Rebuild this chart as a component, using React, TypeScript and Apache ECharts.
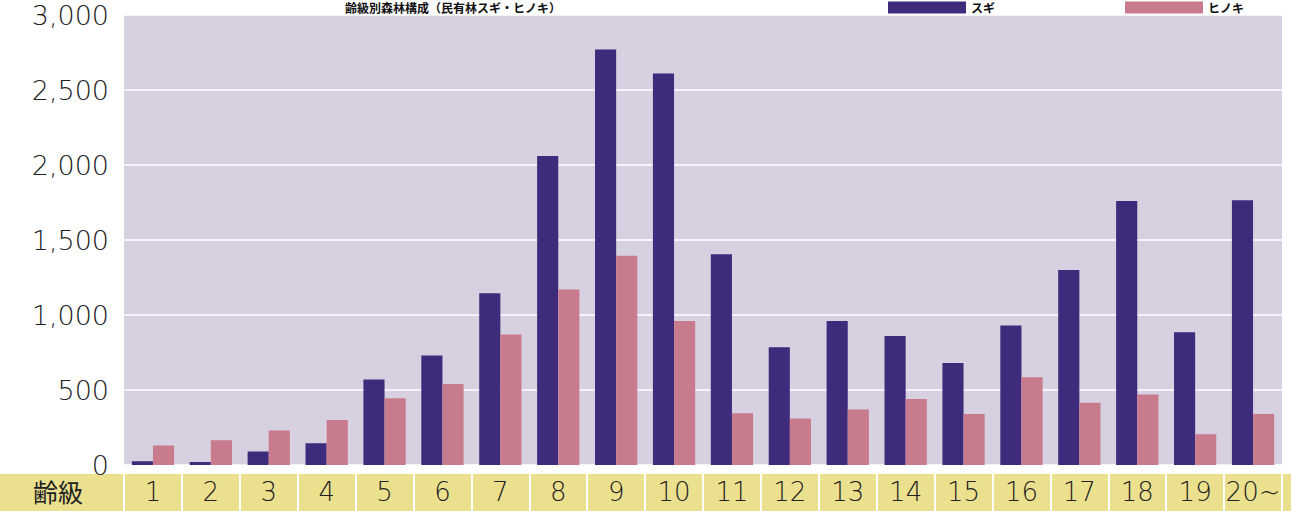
import React, { useEffect, useRef } from "react";
import * as echarts from "echarts";

const categories = ["1", "2", "3", "4", "5", "6", "7", "8", "9", "10", "11", "12", "13", "14", "15", "16", "17", "18", "19", "20~"];
const sugi = [25, 20, 90, 145, 570, 730, 1145, 2060, 2770, 2610, 1405, 785, 960, 860, 680, 930, 1300, 1760, 885, 1765];
const hinoki = [130, 165, 230, 300, 445, 540, 870, 1170, 1395, 960, 345, 310, 370, 440, 340, 585, 415, 470, 205, 340];
const yTicks = [0, 500, 1000, 1500, 2000, 2500, 3000];

export default function App() {
  const ref = useRef<HTMLDivElement>(null);
  useEffect(() => {
    const el = ref.current!;
    const chart = echarts.init(el, undefined, { renderer: "svg" });
    const cjk = "'Noto Sans CJK JP', 'Noto Sans', sans-serif";
    const num = "'DejaVu Sans', 'Noto Sans', sans-serif";
    chart.setOption({
      animation: false,
      backgroundColor: "#ffffff",
      title: {
        text: "齢級別森林構成（民有林スギ・ヒノキ）",
        left: 345,
        top: 1,
        padding: 0,
        textStyle: { fontSize: 12, lineHeight: 13, fontWeight: "bold", color: "#111", fontFamily: cjk },
      },
      legend: {
        left: 888,
        top: 1,
        padding: 0,
        itemWidth: 78,
        itemHeight: 12,
        itemGap: 130,
        textStyle: { fontSize: 12, lineHeight: 13, fontWeight: "bold", color: "#111", fontFamily: cjk },
        icon: "rect",
        data: ["スギ", "ヒノキ"],
      },
      graphic: [
        { type: "rect", left: 0, top: 474, shape: { width: 1291, height: 37 }, style: { fill: "#ebe08e" }, z: -1 },
        { type: "text", left: 33, top: 478, style: { text: "齢級", fontSize: 25, fill: "#222", fontFamily: cjk } },
      ],
      grid: {
        left: 124,
        top: 15,
        width: 1158,
        height: 450,
        show: true,
        backgroundColor: "#d6d0e0",
        borderWidth: 0,
      },
      xAxis: {
        type: "category",
        data: categories,
        axisLine: { show: false },
        axisTick: { show: true, interval: 0, length: 46, lineStyle: { color: "#ffffff", width: 2 } },
        axisLabel: { interval: 0, fontSize: 26, lineHeight: 28, color: "#222", margin: 13, fontFamily: num, fontWeight: 200 },
      },
      yAxis: {
        type: "value",
        min: 0,
        max: 3000,
        interval: 500,
        axisLine: { show: false },
        axisTick: { show: false },
        splitLine: { lineStyle: { color: "#ffffff", width: 1.5 } },
        axisLabel: {
          fontSize: 27,
          lineHeight: 28,
          color: "#222",
          margin: 15,
          fontFamily: num,
          fontWeight: 200,
          formatter: (v: number) => (yTicks.includes(v) ? v.toLocaleString("en-US") : ""),
        },
      },
      series: [
        { name: "スギ", type: "bar", data: sugi, barGap: "0%", barCategoryGap: "27%", itemStyle: { color: "#3e2b7c" } },
        { name: "ヒノキ", type: "bar", data: hinoki, barGap: "0%", barCategoryGap: "27%", itemStyle: { color: "#c87b8d" } },
      ],
    });
    return () => chart.dispose();
  }, []);
  return <div ref={ref} style={{ width: 1291, height: 511, position: "absolute", left: 0, top: 0 }} />;
}
